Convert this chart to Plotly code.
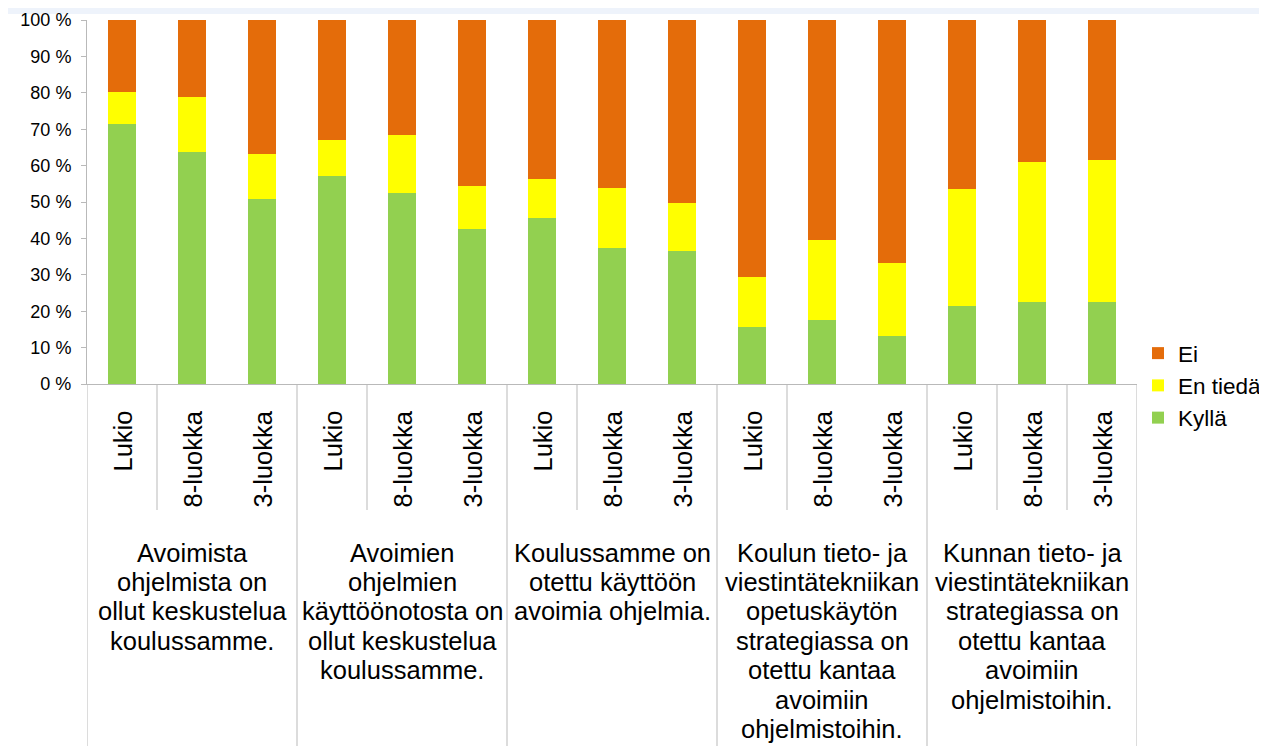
import plotly.graph_objects as go

# ---- data ----
subcats = ["Lukio", "8-luokka", "3-luokka"]
groups = [
    ["Avoimista", "ohjelmista on", "ollut keskustelua", "koulussamme."],
    ["Avoimien", "ohjelmien", "käyttöönotosta on", "ollut keskustelua", "koulussamme."],
    ["Koulussamme on", "otettu käyttöön", "avoimia ohjelmia."],
    ["Koulun tieto- ja", "viestintätekniikan", "opetuskäytön", "strategiassa on",
     "otettu kantaa", "avoimiin", "ohjelmistoihin."],
    ["Kunnan tieto- ja", "viestintätekniikan", "strategiassa on", "otettu kantaa",
     "avoimiin", "ohjelmistoihin."],
]
kylla = [71.4, 63.7, 50.9, 57.2, 52.4, 42.7, 45.5, 37.5, 36.5, 15.6, 17.7, 13.3, 21.5, 22.5, 22.5]
en_tieda = [8.8, 15.1, 12.2, 9.7, 16.0, 11.7, 10.7, 16.4, 13.2, 13.9, 21.9, 19.9, 32.1, 38.5, 39.0]
ei = [19.8, 21.2, 36.9, 33.1, 31.6, 45.6, 43.8, 46.1, 50.3, 70.5, 60.4, 66.8, 46.4, 39.0, 38.5]
yticks = [0, 10, 20, 30, 40, 50, 60, 70, 80, 90, 100]

# sub-category divider lines (after these category indices), as drawn in the original
sub_dividers_after = [0, 3, 6, 9, 12, 13]

# ---- layout constants (page is drawn with an 8px body margin) ----
OFF = 8
W, H = 1267 - OFF, 746 - OFF
ML, MT = 87 - OFF, 20 - OFF
MR = W - (1137 - OFF)
MB = H - (384 - OFF)
PH = H - MT - MB
PW = W - ML - MR
FONT = "Liberation Sans, Arial, sans-serif"
GRAY = "#b9b9b9"

n = len(kylla)
x = list(range(n))

fig = go.Figure()
fig.add_trace(go.Bar(x=x, y=kylla, name="Kyllä", marker_color="#92D050", width=0.4,
                     marker_line_width=0))
fig.add_trace(go.Bar(x=x, y=en_tieda, name="En tiedä", marker_color="#FFFF00", width=0.4,
                     marker_line_width=0))
fig.add_trace(go.Bar(x=x, y=ei, name="Ei", marker_color="#E46C0A", width=0.4,
                     marker_line_width=0))

annotations = []
# rotated sub-category labels
for i in range(n):
    annotations.append(dict(
        x=i, xref="x", y=0, yref="paper", yanchor="top", xanchor="center",
        yshift=-25, text=subcats[i % 3], textangle=-90, showarrow=False,
        font=dict(family=FONT, size=25.5, color="#000000")))
# group labels, one line at a time
ng = len(groups)
for g, lines in enumerate(groups):
    for k, line in enumerate(lines):
        annotations.append(dict(
            x=g * 3 + 1, xref="x", y=0, yref="paper", yanchor="middle", xanchor="center",
            yshift=-(168.5 + 29.4 * k), text=line, showarrow=False,
            font=dict(family=FONT, size=25.5, color="#000000")))

shapes = []
# background accent at the very top
shapes.append(dict(type="rect", xref="paper", yref="paper", layer="below",
                   x0=-ML / PW, x1=(W - ML) / PW,
                   y0=1 + (MT - 6) / PH, y1=1 + MT / PH, fillcolor="#eef3fb", line_width=0))
# group divider lines
for g in range(ng + 1):
    shapes.append(dict(type="line", xref="x", yref="paper",
                       x0=g * 3 - 0.5, x1=g * 3 - 0.5, y0=0, y1=-MB / PH,
                       line=dict(color=GRAY, width=1)))
# sub-category divider lines
for i in sub_dividers_after:
    shapes.append(dict(type="line", xref="x", yref="paper",
                       x0=i + 0.5, x1=i + 0.5, y0=0, y1=-126 / PH,
                       line=dict(color=GRAY, width=1)))

fig.update_layout(
    width=W, height=H,
    margin=dict(l=ML, r=MR, t=MT, b=MB, pad=0, autoexpand=False),
    barmode="stack",
    bargap=0.6,
    paper_bgcolor="white", plot_bgcolor="white",
    font=dict(family=FONT, color="#000000"),
    showlegend=True,
    legend=dict(traceorder="reversed", xref="container", yref="container",
                x=1130 / W, y=1 - 324 / H, xanchor="left", yanchor="top",
                font=dict(family=FONT, size=22.5, color="#000000"),
                bgcolor="rgba(0,0,0,0)", itemwidth=30),
    annotations=annotations,
    shapes=shapes,
)
fig.update_xaxes(range=[-0.5, n - 0.5], showticklabels=False, ticks="", automargin=False,
                 showgrid=False, zeroline=False, showline=True, linecolor=GRAY, linewidth=1)
fig.update_yaxes(range=[0, 100], tickvals=yticks, ticktext=[f"{v} %" for v in yticks],
                 ticks="outside", ticklen=5, tickcolor=GRAY, showgrid=False, zeroline=False,
                 showline=True, linecolor=GRAY, linewidth=1, automargin=False,
                 tickfont=dict(family=FONT, size=18, color="#000000"),
                 ticklabelstandoff=6)

fig.write_html("out.html")
